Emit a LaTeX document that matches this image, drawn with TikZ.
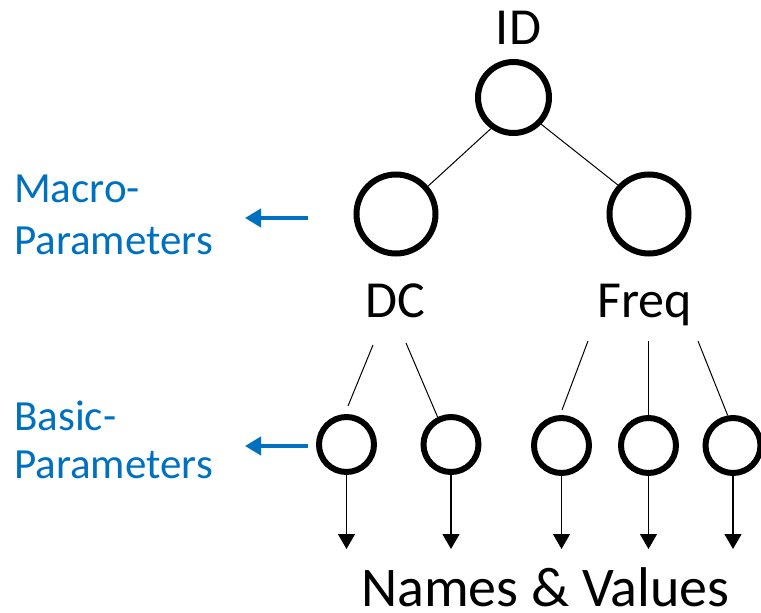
\documentclass[tikz,border=0pt]{standalone}
\usepackage{fontspec}
\setmainfont{Carlito}
\usetikzlibrary{arrows.meta}
\definecolor{parblue}{RGB}{0,112,192}
\begin{document}
\begin{tikzpicture}[x=1pt,y=-1pt,
  ring/.style={circle,draw=black,line width=6pt,inner sep=0pt,fill=white},
  rootring/.style={ring,minimum size=71pt},
  macroring/.style={ring,minimum size=79pt},
  basicring/.style={ring,minimum size=55pt},
  treelabel/.style={inner sep=0pt,anchor=base,font=\fontsize{52}{60}\selectfont},
  sidelabel/.style={inner sep=0pt,anchor=base west,text=parblue,font=\fontsize{43}{50}\selectfont},
  thin link/.style={draw=black,line width=1pt},
  down/.style={draw=black,line width=1.2pt,-{Triangle[width=17pt,length=15pt]}},
  pointer/.style={draw=parblue,line width=4.5pt,-{Triangle[width=18pt,length=16pt]}}
]
\useasboundingbox (0,0) rectangle (761,613);

% tree nodes
\node[rootring]  (root) at (513.5,97.5) {};
\node[macroring] (dc)   at (396,214) {};
\node[macroring] (freq) at (649,214) {};
\node[basicring] (b1) at (346.5,444.5) {};
\node[basicring] (b2) at (451,444.5) {};
\node[basicring] (b3) at (561.5,445.5) {};
\node[basicring] (b4) at (648.5,445.5) {};
\node[basicring] (b5) at (733,445.5) {};

% labels
\node[treelabel] (idlab)   at (518.5,45) {ID};
\node[treelabel] (dclab)   at (395.5,317) {DC};
\node[treelabel] (freqlab) at (644.5,317) {Freq};
\node[treelabel,font=\fontsize{56}{62}\selectfont] (nvlab) at (545.5,606) {Names \& Values};

\node[sidelabel] (macro1) at (14,202) {Macro-};
\node[sidelabel] (macro2) at (14,254) {Parameters};
\node[sidelabel] (basic1) at (14,430) {Basic-};
\node[sidelabel] (basic2) at (14,478) {Parameters};

% links between levels
\draw[thin link] (root.234) -- (dc.41);
\draw[thin link] (root.316) -- (freq.137);

\coordinate (dcA) at (373,345);
\coordinate (dcB) at (406,343);
\coordinate (fqA) at (588,341);
\coordinate (fqB) at (648.5,341);
\coordinate (fqC) at (698,341);
\coordinate (b1top) at (348,406);
\coordinate (b3top) at (562,410);
\draw[thin link] (dcA) -- (b1top);
\draw[thin link] (dcB) -- (b2.116);
\draw[thin link] (fqA) -- (b3top);
\draw[thin link] (fqB) -- (b4.north);
\draw[thin link] (fqC) -- (b5.100);

% arrows to names and values
\coordinate (t1) at (346.5,549);
\coordinate (t2) at (451,549);
\coordinate (t3) at (561.5,549);
\coordinate (t4) at (648.5,549);
\coordinate (t5) at (733,549);
\draw[down] (b1.south) -- (t1);
\draw[down] (b2.south) -- (t2);
\draw[down] (b3.south) -- (t3);
\draw[down] (b4.south) -- (t4);
\draw[down] (b5.south) -- (t5);

% side pointers
\coordinate (mtail) at (308,218);
\coordinate (mtip)  at (245,218);
\coordinate (btail) at (308,446);
\coordinate (btip)  at (245,446);
\draw[pointer] (mtail) -- (mtip);
\draw[pointer] (btail) -- (btip);
\end{tikzpicture}
\end{document}
